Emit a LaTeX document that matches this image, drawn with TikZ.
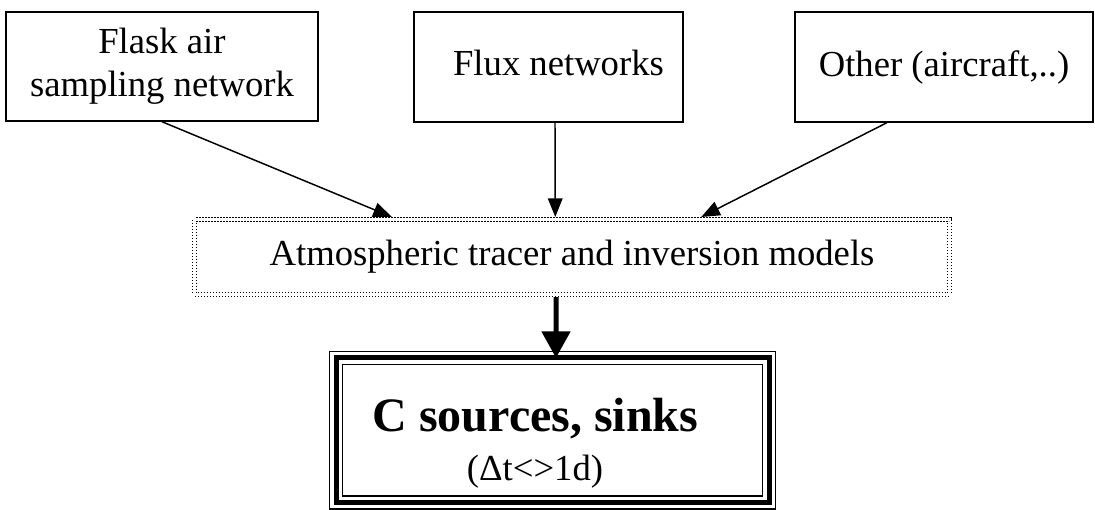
\documentclass[tikz,border=0pt]{standalone}
\usepackage{fontspec}
\setmainfont{Liberation Serif}
\usetikzlibrary{arrows.meta,calc}
\begin{document}
\begin{tikzpicture}[x=0.75pt,y=-0.75pt,
  src/.style={draw=black,line width=1.1pt,inner sep=0pt,align=center,
    font=\fontsize{27.5}{32.25}\selectfont},
  model/.style={draw=black,line width=1pt,double=white,double distance=2pt,
    dash pattern=on 1pt off 1.25pt,inner sep=0pt,outer sep=2pt,
    font=\fontsize{27.5}{33}\selectfont},
  sinkbox/.style={draw=black,line width=3.75pt,inner sep=0pt,outer sep=0pt},
  thinframe/.style={draw=black,line width=1.1pt},
  feed/.style={draw=black,line width=1.1pt,-{Triangle[length=14pt,width=11pt]}},
  bigfeed/.style={draw=black,line width=3.75pt,-{Triangle[length=20pt,width=21pt]}},
  lbl/.style={inner sep=0pt,anchor=base}]
\useasboundingbox (0,0) rectangle (1095,510);

\node[src, minimum width=234pt, minimum height=81.75pt] (flask) at (162,66.5)
  {Flask air\\sampling network};
\node[src, minimum width=201.75pt, minimum height=82.5pt] (flux) at (548.5,67)
  {\hspace*{15pt}Flux networks\vphantom{(}};
\node[src, minimum width=223.5pt, minimum height=82.5pt] (other) at (944,67)
  {Other (aircraft,..)};

\node[model, minimum width=566pt, minimum height=56pt] (model) at (572,257)
  {Atmospheric tracer and inversion models};

\node[sinkbox, minimum width=324.75pt, minimum height=108.4pt] (sink) at (552.5,430.25) {};
\draw[thinframe] ([shift={(-5pt,5pt)}]sink.north west) rectangle ([shift={(5pt,-5pt)}]sink.south east);
\draw[thinframe] ([shift={(5pt,-5pt)}]sink.north west) rectangle ([shift={(-5pt,5pt)}]sink.south east);
\node[lbl] (sinkname) at (535.5,431.7) {\fontsize{36}{40}\selectfont\bfseries C sources, sinks};
\node[lbl] (sinkdt) at (535,480) {\fontsize{27.5}{32}\selectfont (Δt<>1d)};

\draw[feed] (flask.south) -- ($(model.north west)!0.263!(model.north east)$);
\draw[feed] ($(flux.south west)!0.524!(flux.south east)$) -- ($(model.north west)!0.478!(model.north east)$);
\draw[feed] ($(other.south west)!0.309!(other.south east)$) -- ($(model.north west)!0.670!(model.north east)$);
\draw[bigfeed] ($(model.south west)!0.479!(model.south east)$) -- ($(sink.north west)!0.508!(sink.north east)$);
\end{tikzpicture}
\end{document}
